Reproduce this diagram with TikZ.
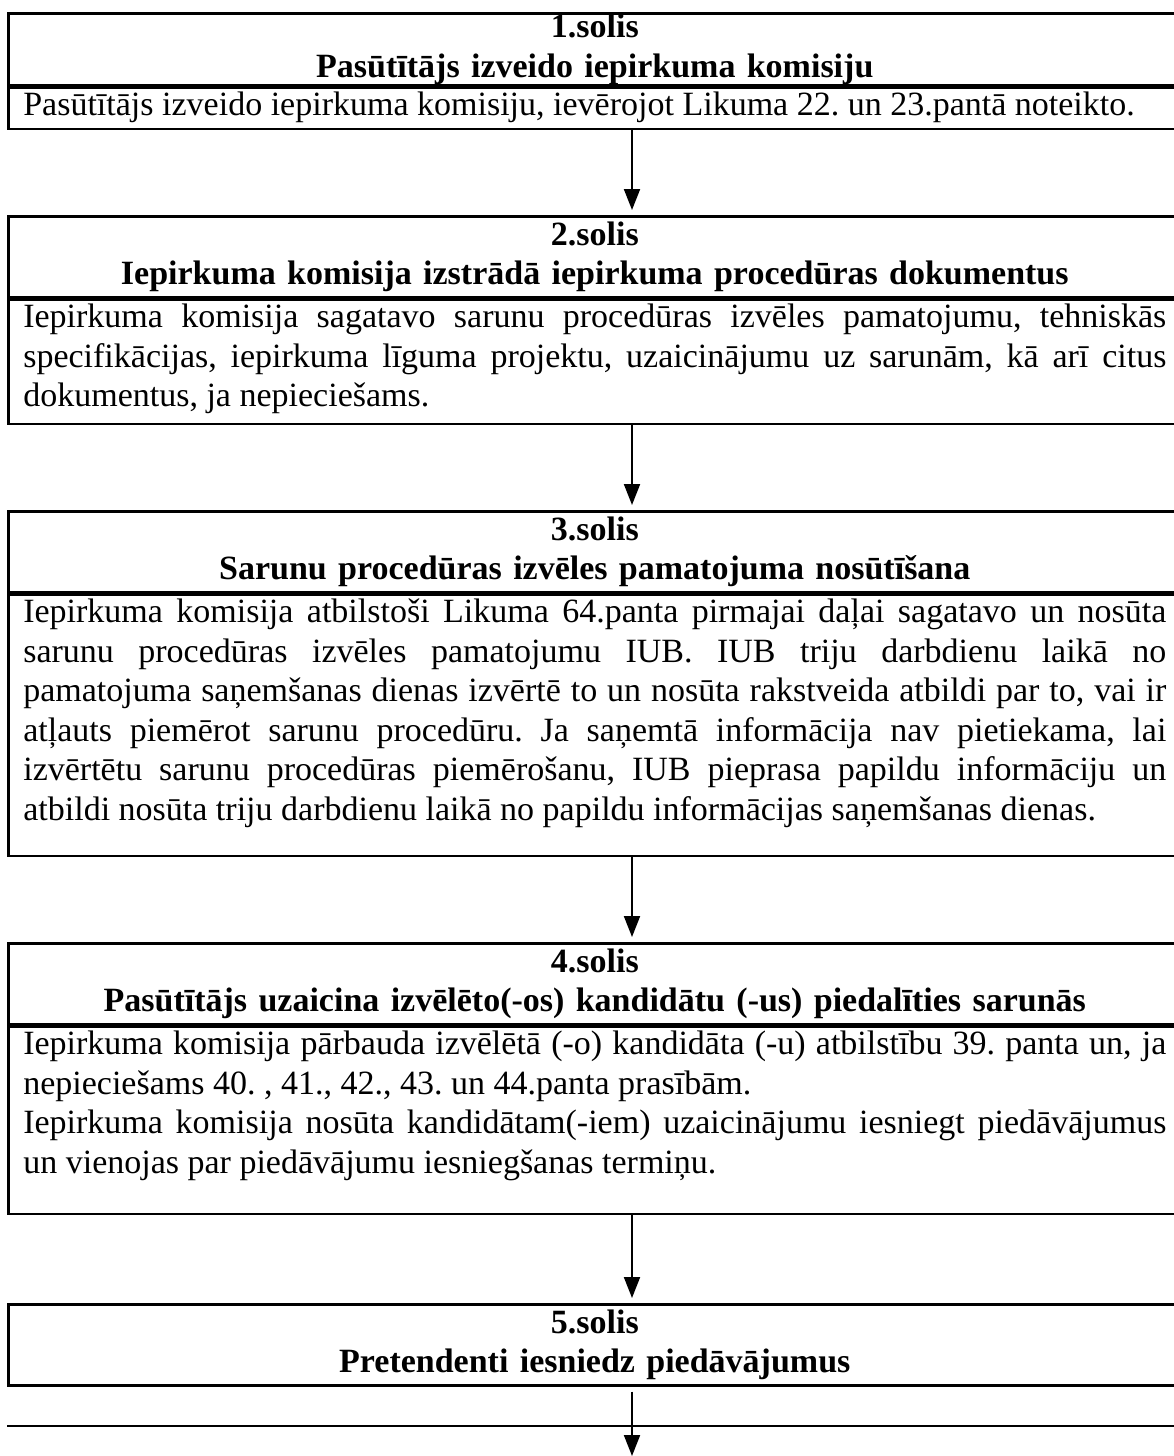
\documentclass[tikz,border=0pt]{standalone}
\usepackage{fontspec}
\setmainfont{Liberation Serif}
\usepackage{tikz}
\usetikzlibrary{arrows.meta}
\usetikzlibrary{positioning}
\frenchspacing
\newcommand{\stepfont}{\fontsize{34}{39.5}\selectfont}
\newcommand{\bodyfont}{\stepfont\frenchspacing\hyphenpenalty=10000\exhyphenpenalty=10000\tolerance=9999\emergencystretch=30pt}
\tikzset{
  cell/.style={draw, line width=2.6pt, anchor=north west, text width=1143pt, inner xsep=15pt, inner ysep=0pt},
  headcell/.style={cell, align=center, minimum height=81pt, font=\stepfont\bfseries},
  bodycell/.style={cell, align=justify, text height=28pt, font=\bodyfont},
  flow/.style={line width=2pt, -{Triangle[length=21pt,width=16pt]}, shorten >=5pt}
}

\begin{document}
\begin{tikzpicture}[x=1pt, y=-1pt]
        \useasboundingbox (0,0) rectangle (1174,1456);
        \clip (0,0) rectangle (1174,1456);
        \coordinate (ax) at (632,0);
        % step 1
        \node[headcell, minimum height=72pt] (head1) at (7,12) {1.solis\\Pasūtītājs izveido iepirkuma komisiju};
        \node[bodycell, text depth=13pt] (body1) at (head1.south west) {Pasūtītājs izveido iepirkuma komisiju, ievērojot Likuma 22. un 23.pantā noteikto.};
        % step 2
        \node[headcell] (head2) at (7,215) {2.solis\\Iepirkuma komisija izstrādā iepirkuma procedūras dokumentus};
        \node[bodycell, text depth=96pt] (body2) at (head2.south west) {Iepirkuma komisija sagatavo sarunu procedūras izvēles pamatojumu, tehniskās\linebreak specifikācijas, iepirkuma līguma projektu, uzaicinājumu uz sarunām, kā arī citus\linebreak dokumentus, ja nepieciešams.};
        % step 3
        \node[headcell] (head3) at (7,510) {3.solis\\Sarunu procedūras izvēles pamatojuma nosūtīšana};
        \node[bodycell, text depth=233pt] (body3) at (head3.south west) {Iepirkuma komisija atbilstoši Likuma 64.panta pirmajai daļai sagatavo un nosūta\linebreak sarunu procedūras izvēles pamatojumu IUB. IUB triju darbdienu laikā no\linebreak pamatojuma saņemšanas dienas izvērtē to un nosūta rakstveida atbildi par to, vai ir\linebreak atļauts piemērot sarunu procedūru. Ja saņemtā informācija nav pietiekama, lai\linebreak izvērtētu sarunu procedūras piemērošanu, IUB pieprasa papildu informāciju un\linebreak atbildi nosūta triju darbdienu laikā no papildu informācijas saņemšanas dienas.};
        % step 4
        \node[headcell] (head4) at (7,942) {4.solis\\Pasūtītājs uzaicina izvēlēto(-os) kandidātu (-us) piedalīties sarunās};
        \node[bodycell, text depth=159pt] (body4) at (head4.south west) {Iepirkuma komisija pārbauda izvēlētā (-o) kandidāta (-u) atbilstību 39. panta un, ja\linebreak nepieciešams 40. , 41., 42., 43. un 44.panta prasībām.\par Iepirkuma komisija nosūta kandidātam(-iem) uzaicinājumu iesniegt piedāvājumus\linebreak un vienojas par piedāvājumu iesniegšanas termiņu.};
        % step 5
        \node[headcell] (head5) at (7,1303) {5.solis\\Pretendenti iesniedz piedāvājumus};
        \coordinate (next) at (7,1426);
        \coordinate (out) at (632,1456);
        \draw[line width=2.6pt] (next) -- ++(1174,0);
        % arrows
        \draw[flow] (body1.south -| ax) -- (head2.north -| ax);
        \draw[flow] (body2.south -| ax) -- (head3.north -| ax);
        \draw[flow] (body3.south -| ax) -- (head4.north -| ax);
        \draw[flow] (body4.south -| ax) -- (head5.north -| ax);
        \draw[flow, shorten <=5pt, shorten >=0pt] (head5.south -| ax) -- (out);
\end{tikzpicture}
\end{document}
